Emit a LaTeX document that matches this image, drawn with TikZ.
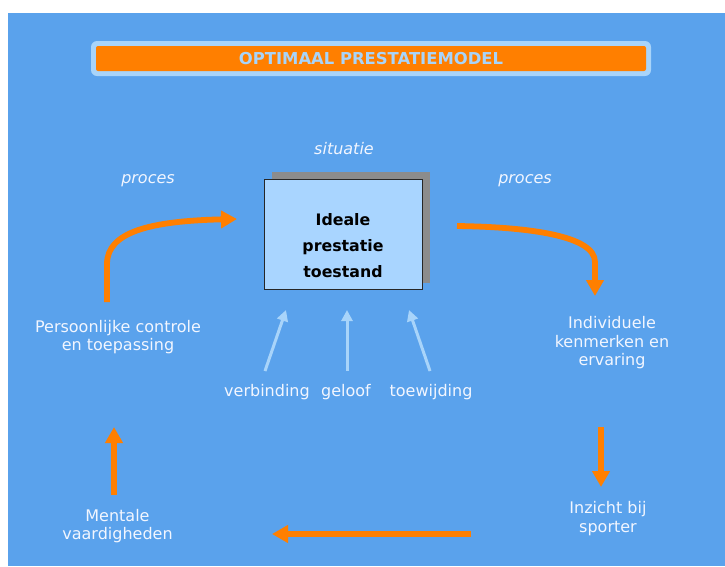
\documentclass[tikz,border=0pt]{standalone}
\usepackage{fontspec}
\setmainfont{DejaVu Sans}
\usetikzlibrary{arrows.meta}
\definecolor{bg}{HTML}{5AA2EC}
\definecolor{lightb}{HTML}{A8D4FA}
\definecolor{boxfill}{HTML}{A9D5FF}
\definecolor{orng}{HTML}{FF7F00}
\definecolor{shadowgray}{HTML}{8C8C8C}
\definecolor{txt}{HTML}{F2F6FF}
\begin{document}
\begin{tikzpicture}[x=1pt,y=-1pt,
  lbl/.style={text=txt, font=\fontsize{16}{18.5}\selectfont, align=center, inner sep=0pt},
  itl/.style={text=txt, font=\fontsize{16}{18}\selectfont\itshape, inner sep=0pt},
  orarrow/.style={draw=orng, line width=5.8pt, -{Triangle[length=16pt,width=17pt]}},
  lbarrow/.style={draw=lightb, line width=3pt, -{Triangle[length=11pt,width=11pt]}},
]
\useasboundingbox (0,0) rectangle (725,566);
\fill[white] (0,0) rectangle (725,566);
\fill[bg] (8,13) rectangle (725,566);
% title
\fill[lightb, rounded corners=6pt] (91,41) rectangle (651,76);
\node[fill=orng, rounded corners=2pt, minimum width=550pt, minimum height=25pt, inner sep=0pt,
  text=lightb, font=\fontsize{16.4}{18}\selectfont\bfseries] (title) at (371,58.5) {OPTIMAAL PRESTATIEMODEL};
% central box
\fill[shadowgray] (272,172) rectangle (430,283);
\node[draw=black!85, line width=1pt, fill=boxfill, minimum width=158pt, minimum height=110pt, inner sep=0pt] (ideal) at (343,234) {};
\node[align=center, inner sep=0pt, font=\fontsize{15.8}{26}\selectfont\bfseries] (idealtxt) at (343,246) {Ideale\\prestatie\\toestand};
% italic labels
\node[itl] (situatie) at (344,149) {situatie};
\node[itl] (procesL) at (148,181) {proces};
\node[itl] (procesR) at (525,181) {proces};
% outer labels
\node[lbl] (pers) at (118,337) {Persoonlijke controle\\en toepassing};
\node[lbl] (ment) at (117.5,526) {Mentale\\vaardigheden};
\node[lbl] (indiv) at (612,343) {Individuele\\kenmerken en\\ervaring};
\node[lbl] (inz) at (608,518.5) {Inzicht bij\\sporter};
\node[lbl] (verb) at (267,392) {verbinding};
\node[lbl] (gel) at (346,392) {geloof};
\node[lbl] (toew) at (431,392) {toewijding};
% arrow end points
\coordinate (aS) at (107,302);
\coordinate (aE) at (237,219);
\coordinate (bS) at (457,226);
\coordinate (bE) at (595,296);
\coordinate (cS) at (601,427);
\coordinate (cE) at (601,487);
\coordinate (dS) at (471,534);
\coordinate (dE) at (272,534);
\coordinate (eS) at (114,495);
\coordinate (eE) at (114,427);
\coordinate (v1S) at (265,371);
\coordinate (v1E) at (286,310);
\coordinate (v2S) at (347,371);
\coordinate (v2E) at (347,310);
\coordinate (v3S) at (430,371);
\coordinate (v3E) at (409,310);
% orange arrows
\draw[orarrow] (aS) -- (107,264) .. controls (107,232) and (150,221) .. (aE);
\draw[orarrow] (bS) .. controls (530,227) and (595,236) .. (595,262) -- (bE);
\draw[orarrow] (cS) -- (cE);
\draw[orarrow] (dS) -- (dE);
\draw[orarrow] (eS) -- (eE);
% light arrows
\draw[lbarrow] (v1S) -- (v1E);
\draw[lbarrow] (v2S) -- (v2E);
\draw[lbarrow] (v3S) -- (v3E);
\end{tikzpicture}
\end{document}
